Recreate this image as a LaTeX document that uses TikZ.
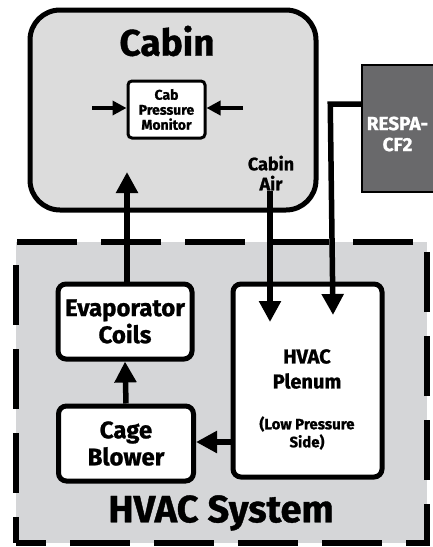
\documentclass[tikz,border=0pt]{standalone}
\usepackage{fontspec}
\setmainfont{Fira Sans}[BoldFeatures={FakeBold=1}]
\usetikzlibrary{arrows.meta}
\definecolor{cabfill}{HTML}{DCDCDC}
\definecolor{hvfill}{HTML}{D5D6D8}
\definecolor{respafill}{HTML}{69696B}
\tikzset{
  blk/.style={draw=black, fill=white, line width=5pt, rounded corners=8pt, align=center, font=\bfseries, inner sep=0pt},
  bigarrow/.style={line width=5.5pt, -{Triangle[length=21pt,width=21pt]}},
  smallarrow/.style={line width=4pt, -{Triangle[length=14pt,width=14pt]}},
  lbl/.style={align=center, font=\bfseries, inner sep=0pt},
}
\begin{document}
\begin{tikzpicture}[x=1pt,y=-1pt]
\clip (0,0) rectangle (433,547);
\fill[white] (0,0) rectangle (433,547);
% HVAC system
\node[draw=black, fill=hvfill, line width=6.5pt, dash pattern=on 60pt off 24pt, dash phase=30pt, minimum width=411pt, minimum height=301pt, inner sep=0pt] (hvac) at (221.5,392.5) {};
% Cabin
\node[draw=black, fill=cabfill, line width=5pt, rounded corners=30pt, minimum width=286pt, minimum height=200pt, inner sep=0pt] (cabin) at (173,110) {};
\node[lbl, font=\fontsize{37}{40}\selectfont\bfseries] (cabintitle) at (167,41) {Cabin};
% monitor
\node[blk, line width=3pt, rounded corners=4pt, minimum width=77pt, minimum height=57pt, font=\fontsize{14}{15}\selectfont\bfseries] (monitor) at (166.5,109.5) {Cab\\Pressure\\Monitor};
% Cabin air label
\node[lbl, font=\fontsize{18}{20}\selectfont\bfseries] (cabinair) at (271,173) {Cabin\\Air};
% RESPA
\node[draw=black, fill=respafill, line width=2pt, minimum width=80pt, minimum height=127pt, inner sep=0pt] (respa) at (402,128.5) {};
\node[lbl, text=white, font=\fontsize{19}{21}\selectfont\bfseries] (respatext) at (397.5,134) {RESPA-\\CF2};
% HVAC boxes
\node[blk, minimum width=134pt, minimum height=75pt, font=\fontsize{24}{27}\selectfont\bfseries] (evap) at (125,321.5) {Evaporator\\Coils};
\node[blk, minimum width=135pt, minimum height=75pt, font=\fontsize{24}{27}\selectfont\bfseries] (blower) at (126,443.5) {Cage\\Blower};
\node[blk, minimum width=149pt, minimum height=193pt] (plenum) at (307.5,380.5) {};
\node[lbl, font=\fontsize{20}{25}\selectfont\bfseries] (plenumtitle) at (307,369) {HVAC\\Plenum};
\node[lbl, font=\fontsize{15}{18}\selectfont\bfseries] (plenumsub) at (307,433) {(Low Pressure\\Side)};
\node[lbl, font=\fontsize{38}{40}\selectfont\bfseries] (hvactitle) at (221,513) {HVAC System};
% coordinates
\coordinate (cabinin) at (127,172);
\coordinate (airstart) at (270,191);
\coordinate (airend) at (270,322);
\coordinate (rbend) at (333,104);
\coordinate (rend) at (333,315);
% connectors
\draw[bigarrow] (evap.north -| 127,0) -- (cabinin);
\draw[bigarrow] (airstart) -- (airend);
\draw[bigarrow, rounded corners=0pt] (respa.west |- rbend) -- ([xshift=-2.75pt]rbend) -- (rend);
\draw[bigarrow] (blower.north) -- (evap.south);
\draw[bigarrow] (plenum.west |- 0,442) -- (blower.east |- 0,442);
\draw[smallarrow] (92,108) -- (monitor.west |- 0,108);
\draw[smallarrow] (243,108) -- (monitor.east |- 0,108);
\end{tikzpicture}
\end{document}
